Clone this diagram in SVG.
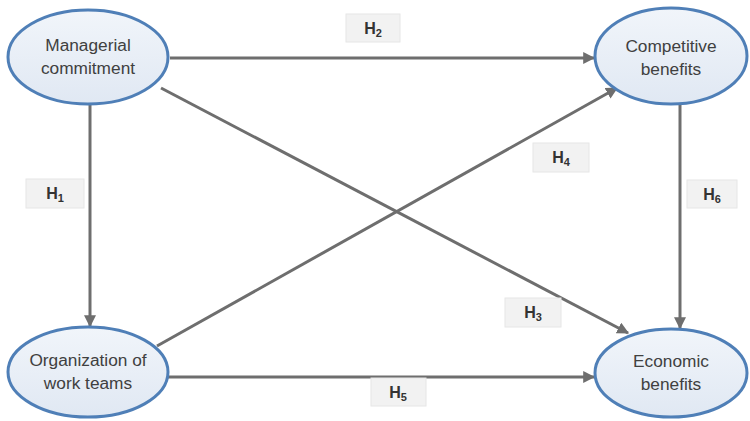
<svg xmlns="http://www.w3.org/2000/svg" width="750" height="421" viewBox="0 0 750 421">
<defs>
<style>
.node ellipse{stroke:#4f7fb7;stroke-width:3}
.node text{font-family:"Liberation Sans",Arial,sans-serif;font-size:17.3px;fill:#404040;text-anchor:middle}
.conn line{stroke:#6e6e6e;stroke-width:3}
.lab rect{fill:#f2f2f2;stroke:#e6e6e6;stroke-width:1}
.lab text{font-family:"Liberation Sans",Arial,sans-serif;font-size:16px;font-weight:bold;fill:#333;text-anchor:middle}
.lab tspan.s{font-size:11px}
</style>
<linearGradient id="g" x1="0" y1="0" x2="0" y2="1">
<stop offset="0" stop-color="#f1f5fa"/><stop offset="1" stop-color="#e0e8f3"/>
</linearGradient>
<marker id="ah" viewBox="0 0 10 10" refX="9" refY="5" markerWidth="4" markerHeight="4" orient="auto" markerUnits="strokeWidth">
<path d="M0,0 L10,5 L0,10 z" fill="#6e6e6e"/>
</marker>
</defs>
<rect width="750" height="421" fill="#fff"/>
<g id="connectors" class="conn">
<line x1="170" y1="58" x2="594" y2="58" marker-end="url(#ah)"/>
<line x1="90" y1="105" x2="90" y2="326" marker-end="url(#ah)"/>
<line x1="680" y1="105" x2="680" y2="328" marker-end="url(#ah)"/>
<line x1="168" y1="377" x2="594" y2="377" marker-end="url(#ah)"/>
<line x1="161" y1="88" x2="628" y2="333" marker-end="url(#ah)"/>
<line x1="157" y1="346" x2="617" y2="88" marker-end="url(#ah)"/>
</g>
<g id="labels" class="lab">
<g id="lab-h2"><rect x="346" y="14" width="54" height="28"/><text x="373" y="34">H<tspan class="s" dy="3">2</tspan></text></g>
<g id="lab-h1"><rect x="26" y="179" width="58" height="29"/><text x="55" y="199">H<tspan class="s" dy="3">1</tspan></text></g>
<g id="lab-h4"><rect x="533" y="143" width="56" height="29"/><text x="561" y="163">H<tspan class="s" dy="3">4</tspan></text></g>
<g id="lab-h6"><rect x="687" y="180" width="50" height="28"/><text x="712" y="200">H<tspan class="s" dy="3">6</tspan></text></g>
<g id="lab-h3"><rect x="505" y="298" width="56" height="29"/><text x="533" y="318">H<tspan class="s" dy="3">3</tspan></text></g>
<g id="lab-h5"><rect x="371" y="378" width="55" height="28"/><text x="398" y="398">H<tspan class="s" dy="3">5</tspan></text></g>
</g>
<g id="n-managerial" class="node"><ellipse cx="88" cy="57" rx="80" ry="47" style="fill:url(#g)"/><text x="88" y="51">Managerial</text><text x="88" y="74">commitment</text></g>
<g id="n-competitive" class="node"><ellipse cx="671" cy="56" rx="76" ry="48" style="fill:url(#g)"/><text x="671" y="52">Competitive</text><text x="671" y="75">benefits</text></g>
<g id="n-organization" class="node"><ellipse cx="88" cy="372" rx="80" ry="45" style="fill:url(#g)"/><text x="88" y="366">Organization of</text><text x="88" y="389">work teams</text></g>
<g id="n-economic" class="node"><ellipse cx="671" cy="373" rx="76" ry="44" style="fill:url(#g)"/><text x="671" y="367">Economic</text><text x="671" y="390">benefits</text></g>
</svg>
